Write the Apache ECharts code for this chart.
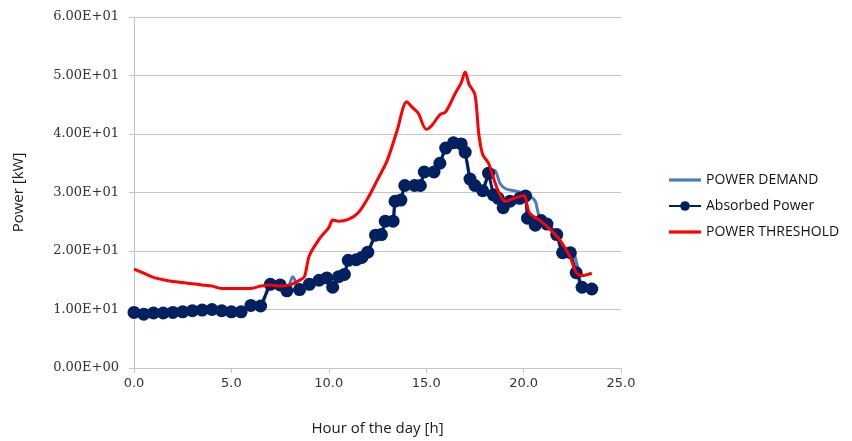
<!DOCTYPE html>
<html>
<head>
<meta charset="utf-8">
<script src="https://cdn.jsdelivr.net/npm/echarts@6/dist/echarts.min.js"></script>
<style>
  html, body { margin: 0; padding: 0; background: #ffffff; }
  #chart { width: 852px; height: 441px; }
</style>
</head>
<body>
<div id="chart"></div>
<script>
// Hourly power profile: demand, absorbed power and threshold (kW)
const xTicks = [0, 5, 10, 15, 20, 25];
const yTicks = [0, 10, 20, 30, 40, 50, 60];

const absorbedHours = [0, 0.5, 1, 1.5, 2, 2.5, 3, 3.5, 4, 4.5, 5, 5.5, 6, 6.5, 7, 7.5, 7.85, 8.5, 9, 9.5,
  9.9, 10.2, 10.5, 10.8, 11.0, 11.4, 11.7, 12.0, 12.4, 12.7, 12.9, 13.3, 13.4, 13.7, 13.9, 14.4, 14.7,
  14.9, 15.4, 15.7, 16.0, 16.4, 16.8, 17.0, 17.25, 17.5, 17.9, 18.2, 18.45, 18.7, 18.95, 19.3, 19.8,
  20.1, 20.2, 20.6, 20.9, 21.2, 21.7, 22.0, 22.4, 22.7, 23.0, 23.5];
const absorbedKW = [9.5, 9.2, 9.4, 9.4, 9.5, 9.6, 9.8, 9.9, 10.0, 9.8, 9.6, 9.6, 10.7, 10.6, 14.3, 14.2, 13.2, 13.4, 14.3, 15.0,
  15.4, 13.8, 15.6, 16.0, 18.4, 18.5, 18.9, 19.8, 22.7, 22.8, 25.1, 25.1, 28.5, 28.7, 31.2, 31.2, 31.2,
  33.5, 33.5, 35.0, 37.6, 38.5, 38.3, 36.9, 32.3, 31.2, 30.3, 33.3, 29.6, 29.0, 27.4, 28.5, 29.0,
  29.4, 25.6, 24.4, 25.2, 24.6, 22.8, 19.7, 19.7, 16.3, 13.8, 13.5];

const demandHours = [0, 0.5, 1, 1.5, 2, 2.5, 3, 3.5, 4, 4.5, 5, 5.5, 6, 6.5, 7, 7.5, 7.85, 8.15, 8.5, 9, 9.5,
  9.9, 10.2, 10.5, 10.8, 11.0, 11.4, 11.7, 12.0, 12.4, 12.7, 12.9, 13.3, 13.4, 13.7, 13.9, 14.4, 14.7,
  14.9, 15.4, 15.7, 16.0, 16.4, 16.8, 17.0, 17.25, 17.5, 17.9, 18.2, 18.5, 18.8, 19.1, 19.5, 19.9,
  20.3, 20.6, 20.8, 21.2, 21.7, 22.0, 22.4, 22.6, 22.8, 23.0, 23.5];
const demandKW = [9.5, 9.2, 9.4, 9.4, 9.5, 9.6, 9.8, 9.9, 10.0, 9.8, 9.6, 9.6, 10.7, 10.6, 14.3, 14.2, 13.5, 15.6, 13.6, 14.3, 15.0,
  15.4, 13.8, 15.6, 16.0, 18.4, 18.5, 18.9, 19.8, 22.7, 22.8, 25.1, 25.1, 28.5, 28.7, 31.2, 31.2, 31.2,
  33.5, 33.5, 35.0, 37.6, 38.5, 38.3, 36.9, 32.3, 31.2, 30.3, 33.3, 33.8, 31.5, 30.6, 30.3, 30.0,
  29.4, 28.5, 26.0, 24.8, 22.8, 19.7, 19.7, 19.4, 16.8, 14.0, 13.5];

const thresholdHours = [0, 0.5, 1, 1.5, 2, 2.5, 3, 3.5, 4, 4.5, 5, 5.5, 6, 6.5, 7, 7.5, 8, 8.5, 8.75, 9.0,
  9.5, 10.0, 10.2, 10.5, 11.0, 11.5, 12.0, 12.5, 13.0, 13.5, 14.0, 14.3, 14.6, 15.0, 15.3, 15.7, 16.0,
  16.5, 16.8, 17.0, 17.2, 17.5, 17.7, 17.9, 18.2, 18.5, 18.8, 19.05, 19.5, 20.0, 20.3, 20.8, 21.3,
  21.9, 22.4, 22.7, 23.0, 23.5];
const thresholdKW = [16.9, 16.2, 15.5, 15.1, 14.8, 14.6, 14.4, 14.2, 14.0, 13.6, 13.6, 13.6, 13.6, 14.0, 14.2, 14.0, 14.2, 15.0, 15.6, 19.2,
  22.0, 24.0, 25.3, 25.1, 25.4, 26.5, 29.0, 32.2, 35.5, 40.5, 45.5, 44.5, 43.5, 40.8, 41.5, 43.3, 43.8,
  47.0, 48.8, 50.6, 48.5, 46.8, 40.0, 36.5, 35.0, 32.0, 29.5, 28.5, 29.0, 29.5, 26.5, 25.3, 23.9,
  21.7, 18.9, 16.3, 15.8, 16.2];

const pairs = (xs, ys) => xs.map((x, i) => [x, ys[i]]);

// Scientific notation in the spreadsheet style, e.g. 6.00E+01
function sci(v) {
  const [m, e] = v.toExponential(2).split('e');
  const n = parseInt(e, 10);
  const sign = n < 0 ? '-' : '+';
  return m + 'E' + sign + String(Math.abs(n)).padStart(2, '0');
}

const chart = echarts.init(document.getElementById('chart'));
const gridColor = '#c4c4c4';
// thin bar used as a plain-line legend key
const lineKey = 'path://M0,0L40,0L40,4L0,4Z';

chart.setOption({
  animation: false,
  backgroundColor: '#ffffff',
  grid: { left: 134, right: 231, top: 17, bottom: 68, containLabel: false },
  legend: {
    orient: 'vertical',
    left: 663,
    top: 168,
    itemWidth: 32,
    itemHeight: 12,
    itemGap: 12,
    symbolKeepAspect: true,
    textStyle: { fontFamily: 'Open Sans', fontSize: 14, color: '#111111' },
    data: [
      { name: 'POWER DEMAND', icon: lineKey },
      { name: 'Absorbed Power' },
      { name: 'POWER THRESHOLD', icon: lineKey }
    ]
  },
  xAxis: {
    type: 'value',
    min: xTicks[0],
    max: xTicks[xTicks.length - 1],
    interval: xTicks[1] - xTicks[0],
    name: 'Hour of the day [h]',
    nameLocation: 'middle',
    nameGap: 53,
    nameTextStyle: { fontFamily: 'Open Sans', fontSize: 15, color: '#1a1a1a' },
    axisLine: { lineStyle: { color: gridColor, width: 1 } },
    axisTick: { show: true, inside: false, length: 5, lineStyle: { color: gridColor } },
    axisLabel: {
      margin: 9,
      fontFamily: 'DejaVu Sans',
      fontSize: 13,
      color: '#333333',
      formatter: v => v.toFixed(1)
    },
    splitLine: { show: false }
  },
  yAxis: {
    type: 'value',
    min: yTicks[0],
    max: yTicks[yTicks.length - 1],
    interval: yTicks[1] - yTicks[0],
    name: 'Power [kW]',
    nameLocation: 'middle',
    nameGap: 108,
    nameTextStyle: { fontFamily: 'Open Sans', fontSize: 15, color: '#1a1a1a' },
    axisLine: { show: true, lineStyle: { color: gridColor, width: 1 } },
    axisTick: { show: true, inside: false, length: 5, lineStyle: { color: gridColor } },
    axisLabel: {
      margin: 15,
      fontFamily: 'DejaVu Serif',
      fontSize: 13,
      color: '#333333',
      formatter: v => sci(v)
    },
    splitLine: { show: true, lineStyle: { color: gridColor, width: 1 } }
  },
  series: [
    {
      name: 'POWER DEMAND',
      type: 'line',
      data: pairs(demandHours, demandKW),
      smooth: 0.3,
      showSymbol: false,
      symbol: 'none',
      lineStyle: { color: '#4a7ebb', width: 3 },
      itemStyle: { color: '#4a7ebb' },
      z: 2
    },
    {
      name: 'Absorbed Power',
      type: 'line',
      data: pairs(absorbedHours, absorbedKW),
      smooth: false,
      symbol: 'circle',
      symbolSize: 13,
      showAllSymbol: true,
      lineStyle: { color: '#002060', width: 3 },
      itemStyle: { color: '#002060' },
      z: 3
    },
    {
      name: 'POWER THRESHOLD',
      type: 'line',
      data: pairs(thresholdHours, thresholdKW),
      smooth: 0.3,
      showSymbol: false,
      symbol: 'none',
      lineStyle: { color: '#ff0000', width: 3 },
      itemStyle: { color: '#ff0000' },
      z: 4
    }
  ]
});
</script>
</body>
</html>
